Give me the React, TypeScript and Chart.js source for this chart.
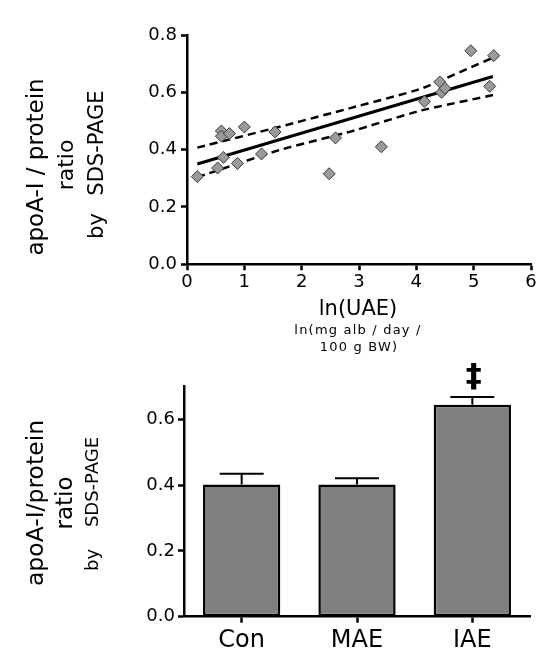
import React, { useEffect, useRef } from "react";
import { Chart, registerables } from "chart.js";

Chart.register(...registerables);

// ---------- data ----------
const uaeLn = [0.18, 0.535, 0.6, 0.6, 0.74, 0.635, 0.88, 1.0, 1.3, 1.535, 2.48, 2.59, 3.39, 4.14, 4.41, 4.44, 4.5, 4.95, 5.28, 5.35];
const apoRatio = [0.306, 0.336, 0.465, 0.447, 0.456, 0.373, 0.352, 0.479, 0.385, 0.462, 0.316, 0.441, 0.41, 0.568, 0.636, 0.6, 0.614, 0.745, 0.621, 0.728];

const fitX = [0.18, 5.335];
const fitY = [0.35, 0.655];
const bandX = [0.18, 1.62, 2.85, 4.07, 5.35];
const upperY = [0.407, 0.48, 0.545, 0.612, 0.722];
const lowerY = [0.304, 0.399, 0.463, 0.536, 0.591];

const groups = ["Con", "MAE", "IAE"];
const groupMeans = [0.402, 0.402, 0.645];
const groupSem = [0.033, 0.019, 0.024];

const scatterYTicks = [0, 0.2, 0.4, 0.6, 0.8];
const scatterXTicks = [0, 1, 2, 3, 4, 5, 6];
const barYTicks = [0, 0.2, 0.4, 0.6];

const topYTitle = ["apoA-I / protein", "ratio", "by", "SDS-PAGE"];
const topXTitle = "ln(UAE)";
const topXSub = ["ln(mg alb / day /", "100 g BW)"];
const botYTitle = ["apoA-I/protein", "ratio", "by", "SDS-PAGE"];
const sigMark = "‡";

const FONT = "'DejaVu Sans', Verdana, sans-serif";
const BOT_TOP = 355; // page y where the lower canvas starts
const BOT_H = 660 - BOT_TOP;

function rotText(ctx: CanvasRenderingContext2D, text: string, x: number, yc: number, size: number) {
  ctx.save();
  ctx.translate(x, yc);
  ctx.rotate(-Math.PI / 2);
  ctx.font = `${size}px ${FONT}`;
  ctx.textAlign = "center";
  ctx.textBaseline = "alphabetic";
  ctx.fillStyle = "#000";
  ctx.fillText(text, 0, 0);
  ctx.restore();
}

function hText(ctx: CanvasRenderingContext2D, text: string, x: number, y: number, font: string, spacing = "0px") {
  ctx.save();
  ctx.font = font;
  (ctx as any).letterSpacing = spacing;
  ctx.textAlign = "center";
  ctx.textBaseline = "middle";
  ctx.fillStyle = "#000";
  ctx.fillText(text, x, y);
  ctx.restore();
}

const axisCommon = {
  grid: { drawOnChartArea: false, drawTicks: true, tickLength: 6, tickColor: "#000", tickWidth: 2.5 },
  border: { color: "#000", width: 2.5 },
};

export default function App() {
  const topRef = useRef<HTMLCanvasElement>(null);
  const botRef = useRef<HTMLCanvasElement>(null);

  useEffect(() => {
    Chart.defaults.color = "#000";
    Chart.defaults.font.family = FONT;

    const topTitles = {
      id: "topTitles",
      afterDraw(chart: any) {
        const ctx = chart.ctx;
        rotText(ctx, topYTitle[0], 43, 167, 23);
        rotText(ctx, topYTitle[1], 73, 165, 22);
        rotText(ctx, topYTitle[2], 103, 226, 21);
        rotText(ctx, topYTitle[3], 103, 143, 21);
        hText(ctx, topXTitle, 358, 310, `21px ${FONT}`);
        hText(ctx, topXSub[0], 358, 331, `13px ${FONT}`, "1.2px");
        hText(ctx, topXSub[1], 359, 348, `13px ${FONT}`, "1.2px");
      },
    };

    const top = new Chart(topRef.current!, {
      type: "scatter",
      data: {
        datasets: [
          {
            data: uaeLn.map((x, i) => ({ x, y: apoRatio[i] })),
            pointStyle: "rectRot",
            pointRadius: 6,
            backgroundColor: "#9a9a9a",
            borderColor: "#3a3a3a",
            borderWidth: 1,
          },
          {
            data: fitX.map((x, i) => ({ x, y: fitY[i] })),
            showLine: true,
            pointRadius: 0,
            borderColor: "#000",
            borderWidth: 3,
          },
          {
            data: bandX.map((x, i) => ({ x, y: upperY[i] })),
            showLine: true,
            pointRadius: 0,
            borderColor: "#000",
            borderWidth: 2.5,
            borderDash: [8, 5],
            tension: 0.15,
          },
          {
            data: bandX.map((x, i) => ({ x, y: lowerY[i] })),
            showLine: true,
            pointRadius: 0,
            borderColor: "#000",
            borderWidth: 2.5,
            borderDash: [8, 5],
            tension: 0.15,
          },
        ] as any,
      },
      options: {
        responsive: false,
        animation: false,
        events: [],
        layout: { padding: { left: 0, top: 35, right: 13, bottom: 0 } },
        plugins: { legend: { display: false }, tooltip: { enabled: false } },
        scales: {
          x: {
            type: "linear",
            min: 0,
            max: 6,
            ...axisCommon,
            afterBuildTicks: (s: any) => { s.ticks = scatterXTicks.map((v) => ({ value: v })); },
            afterFit: (s: any) => { s.height = 370 - 264.3; },
            ticks: { font: { size: 18, family: FONT }, color: "#000", padding: 1, callback: (v: any) => String(v) },
          },
          y: {
            type: "linear",
            min: 0,
            max: 0.8,
            ...axisCommon,
            afterBuildTicks: (s: any) => { s.ticks = scatterYTicks.map((v) => ({ value: v })); },
            afterFit: (s: any) => { s.width = 187; },
            ticks: { font: { size: 18, family: FONT }, color: "#000", padding: 4, callback: (v: any) => Number(v).toFixed(1) },
          },
        },
      } as any,
      plugins: [topTitles],
    });

    const botExtras = {
      id: "botExtras",
      afterDatasetsDraw(chart: any) {
        const ctx = chart.ctx;
        const meta = chart.getDatasetMeta(0);
        const ys = chart.scales.y;
        ctx.save();
        ctx.strokeStyle = "#000";
        ctx.lineWidth = 2;
        meta.data.forEach((bar: any, i: number) => {
          const yTop = ys.getPixelForValue(groupMeans[i] + groupSem[i]);
          const yBar = ys.getPixelForValue(groupMeans[i]);
          ctx.beginPath();
          ctx.moveTo(bar.x, yBar);
          ctx.lineTo(bar.x, yTop);
          ctx.moveTo(bar.x - 22, yTop);
          ctx.lineTo(bar.x + 22, yTop);
          ctx.stroke();
        });
        ctx.restore();
        const last = meta.data[2];
        hText(ctx, sigMark, last.x + 1.5, 378 - BOT_TOP, `bold 32px ${FONT}`);
      },
      afterDraw(chart: any) {
        const ctx = chart.ctx;
        const o = 370 - BOT_TOP;
        rotText(ctx, botYTitle[0], 43, 133 + o, 23.5);
        rotText(ctx, botYTitle[1], 72, 133 + o, 23);
        rotText(ctx, botYTitle[2], 98, 190 + o, 18);
        rotText(ctx, botYTitle[3], 98, 112 + o, 18);
      },
    };

    const bot = new Chart(botRef.current!, {
      type: "bar",
      data: {
        labels: groups,
        datasets: [
          {
            data: groupMeans,
            backgroundColor: "#808080",
            borderColor: "#000",
            borderWidth: 2.5,
            borderSkipped: false,
            barPercentage: 0.67,
            categoryPercentage: 1,
          },
        ],
      },
      options: {
        responsive: false,
        animation: false,
        events: [],
        layout: { padding: { left: 0, top: 386.7 - BOT_TOP, right: 14, bottom: 0 } },
        plugins: { legend: { display: false }, tooltip: { enabled: false } },
        scales: {
          x: {
            ...axisCommon,
            grid: { ...axisCommon.grid, offset: false },
            afterFit: (s: any) => { s.height = 660 - 616.7; },
            ticks: { font: { size: 24, family: FONT }, color: "#000", padding: 4 },
          },
          y: {
            min: 0,
            max: 0.7,
            ...axisCommon,
            afterBuildTicks: (s: any) => { s.ticks = barYTicks.map((v) => ({ value: v })); },
            afterFit: (s: any) => { s.width = 184; },
            ticks: { font: { size: 18, family: FONT }, color: "#000", padding: 3, callback: (v: any) => Number(v).toFixed(1) },
          },
        },
      } as any,
      plugins: [botExtras],
    });

    return () => {
      top.destroy();
      bot.destroy();
    };
  }, []);

  return (
    <div style={{ position: "absolute", left: 0, top: 0, width: 544, height: 660, background: "#fff" }}>
      <canvas ref={topRef} width={544} height={370} style={{ position: "absolute", left: 0, top: 0 }} />
      <canvas ref={botRef} width={544} height={BOT_H} style={{ position: "absolute", left: 0, top: BOT_TOP }} />
    </div>
  );
}
